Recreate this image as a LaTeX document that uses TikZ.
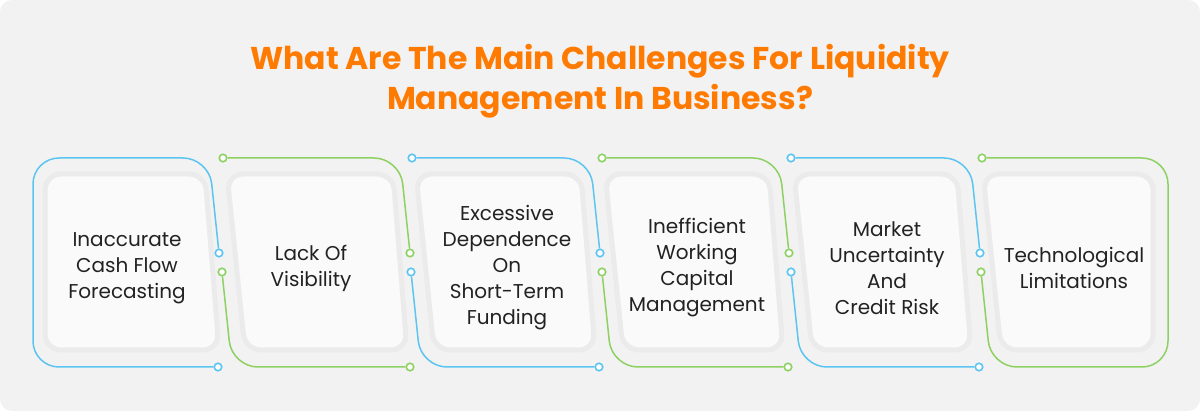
\documentclass[tikz,border=0pt]{standalone}
\usepackage{fontspec}
\setmainfont{Poppins}
\usetikzlibrary{positioning}
\definecolor{titleorange}{HTML}{FF7A00}
\definecolor{lineblue}{HTML}{5BC4F1}
\definecolor{linegreen}{HTML}{8DD163}
\definecolor{bggray}{HTML}{F2F2F2}
\definecolor{cardframe}{HTML}{EBEBEB}
\definecolor{cardface}{HTML}{FAFAFA}
\definecolor{textdark}{HTML}{222222}

\begin{document}
\begin{tikzpicture}[x=1pt, y=-1pt,
  card/.style={fill=cardface, draw=cardframe, line width=5pt, rounded corners=16pt},
  dot/.style={circle, fill=white, line width=1.6pt, minimum size=7.5pt, inner sep=0pt},
  wire/.style={line width=1.5pt, rounded corners=26pt},
  label/.style={text=textdark, font=\fontsize{20}{26}\selectfont, align=center}]
\fill[white] (0,0) rectangle (1200,411);
\fill[bggray, rounded corners=12pt] (0,0) rectangle (1200,411);
\useasboundingbox (0,0) rectangle (1200,411);

\node[name=title, text=titleorange, font=\fontsize{31.5}{40}\selectfont\bfseries, align=center] at (600,81)
  {What Are The Main Challenges For Liquidity\\Management In Business?};

\draw[card] (45,174) -- (205,174) -- (219,350) -- (45,350) -- cycle;
\draw[card] (227,174) -- (393,174) -- (407,350) -- (245,350) -- cycle;
\draw[card] (416,174) -- (581,174) -- (595,350) -- (434,350) -- cycle;
\draw[card] (605,174) -- (769,174) -- (783,350) -- (623,350) -- cycle;
\draw[card] (794,174) -- (957,174) -- (971,350) -- (812,350) -- cycle;
\draw[card] (983,174) -- (1153,174) -- (1153,350) -- (1001,350) -- cycle;

\node[name=dot_1_right, dot, draw=lineblue] at (219,253) {};
\node[name=dot_1_bottom, dot, draw=lineblue] at (218,367) {};
\node[name=dot_2_top, dot, draw=linegreen] at (223,158) {};
\node[name=dot_2_right, dot, draw=linegreen] at (410,253) {};
\node[name=dot_2_left, dot, draw=linegreen] at (222,272) {};
\node[name=dot_2_bottom, dot, draw=linegreen] at (410,367) {};
\node[name=dot_3_top, dot, draw=lineblue] at (412,158) {};
\node[name=dot_3_right, dot, draw=lineblue] at (600,253) {};
\node[name=dot_3_left, dot, draw=lineblue] at (411,272) {};
\node[name=dot_3_bottom, dot, draw=lineblue] at (599,367) {};
\node[name=dot_4_top, dot, draw=linegreen] at (602,158) {};
\node[name=dot_4_right, dot, draw=linegreen] at (789,253) {};
\node[name=dot_4_left, dot, draw=linegreen] at (602,272) {};
\node[name=dot_4_bottom, dot, draw=linegreen] at (788,367) {};
\node[name=dot_5_top, dot, draw=lineblue] at (791,158) {};
\node[name=dot_5_right, dot, draw=lineblue] at (980,253) {};
\node[name=dot_5_left, dot, draw=lineblue] at (791,272) {};
\node[name=dot_5_bottom, dot, draw=lineblue] at (979,367) {};
\node[name=dot_6_top, dot, draw=linegreen] at (982,158) {};
\node[name=dot_6_left, dot, draw=linegreen] at (981,272) {};

\draw[wire, lineblue] (dot_1_right) -- (209,158) -- (33,158) -- (33,367) -- (dot_1_bottom);
\draw[wire, linegreen] (dot_2_top) -- (400,158) -- (dot_2_right);
\draw[wire, linegreen] (dot_2_left) -- (232,367) -- (dot_2_bottom);
\draw[wire, lineblue] (dot_3_top) -- (590,158) -- (dot_3_right);
\draw[wire, lineblue] (dot_3_left) -- (421,367) -- (dot_3_bottom);
\draw[wire, linegreen] (dot_4_top) -- (779,158) -- (dot_4_right);
\draw[wire, linegreen] (dot_4_left) -- (612,367) -- (dot_4_bottom);
\draw[wire, lineblue] (dot_5_top) -- (970,158) -- (dot_5_right);
\draw[wire, lineblue] (dot_5_left) -- (801,367) -- (dot_5_bottom);
\draw[wire, linegreen] (dot_6_top) -- (1168,158) -- (1168,367) -- (991,367) -- (dot_6_left);

\node[name=text_1, label] at (127,268) {Inaccurate\\Cash Flow\\Forecasting};
\node[name=text_2, label] at (311,268) {Lack Of\\Visibility};
\node[name=text_3, label] at (507,268) {Excessive\\Dependence\\On\\Short-Term\\Funding};
\node[name=text_4, label] at (697,268) {Inefficient\\Working\\Capital\\Management};
\node[name=text_5, label] at (887,268) {Market\\Uncertainty\\And\\Credit Risk};
\node[name=text_6, label] at (1074,268) {Technological\\Limitations};

\end{tikzpicture}
\end{document}
